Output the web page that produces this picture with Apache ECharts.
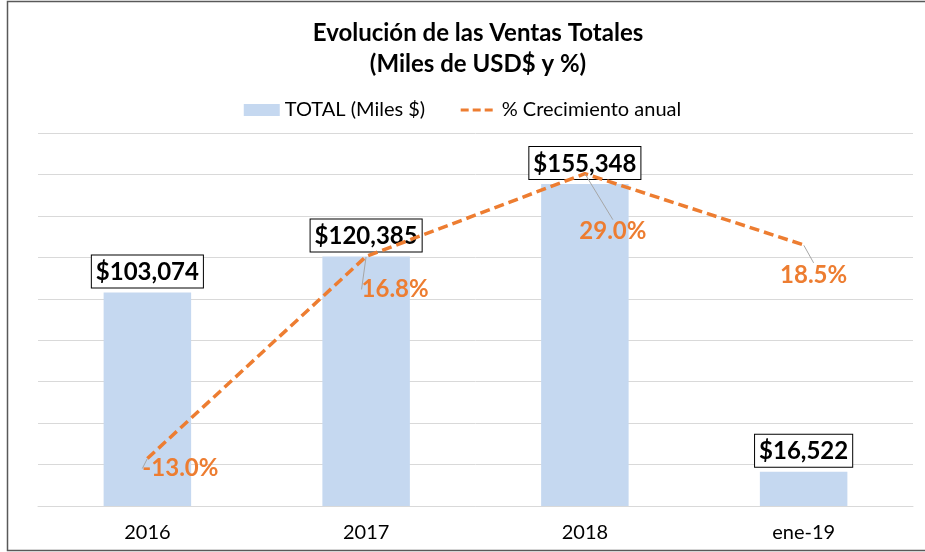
<!DOCTYPE html>
<html>
<head>
<meta charset="utf-8">
<script src="https://cdn.jsdelivr.net/npm/echarts@6/dist/echarts.min.js"></script>
<style>
  html, body { margin: 0; padding: 0; background: #fff; }
  #chart { width: 925px; height: 552px; }
</style>
</head>
<body>
<div id="chart"></div>
<script>
// datos
var categorias = ["2016", "2017", "2018", "ene-19"];
var totalMiles = [103074, 120385, 155348, 16522];
var crecimiento = [-13.0, 16.8, 29.0, 18.5];
// desplazamiento de las etiquetas de % (como en el original)
var pctOffsets = [[33, 10], [29, 33], [28, 58], [10, 30]];

var font = "Lato";
var myChart = echarts.init(document.getElementById("chart"));

var option = {
  animation: false,
  textStyle: { fontFamily: font },
  title: {
    text: "Evolución de las Ventas Totales\n(Miles de USD$ y %)",
    left: 473,
    textAlign: "center",
    top: 13,
    textStyle: {
      fontFamily: font,
      fontSize: 24,
      fontWeight: "bold",
      color: "#000",
      lineHeight: 31
    }
  },
  legend: {
    top: 95,
    left: "center",
    itemGap: 34,
    itemWidth: 36,
    itemHeight: 12,
    textStyle: { fontFamily: font, fontSize: 20, color: "#000" },
    data: [
      { name: "TOTAL (Miles $)", icon: "rect" },
      {
        name: "% Crecimiento anual",
        itemStyle: { opacity: 0 },
        lineStyle: { color: "#ED7D31", width: 3, type: [8, 4] }
      }
    ]
  },
  grid: { left: 38, right: 12, top: 133, bottom: 46 },
  xAxis: {
    type: "category",
    data: categorias,
    axisTick: { show: false },
    axisLine: { lineStyle: { color: "#D9D9D9", width: 1 } },
    axisLabel: { color: "#000", fontSize: 20, fontFamily: font, margin: 17 }
  },
  yAxis: [
    {
      type: "value",
      min: 0,
      max: 180000,
      interval: 20000,
      axisLabel: { show: false },
      axisLine: { show: false },
      axisTick: { show: false },
      splitLine: { lineStyle: { color: "#D9D9D9", width: 1 } }
    },
    {
      type: "value",
      min: -20,
      max: 35,
      interval: 5,
      show: false,
      splitLine: { show: false }
    }
  ],
  series: [
    {
      name: "TOTAL (Miles $)",
      type: "bar",
      data: totalMiles,
      barWidth: "40%",
      itemStyle: { color: "#C5D8F0" },
      label: {
        show: true,
        position: "top",
        distance: 5,
        formatter: function (p) {
          return "$" + p.value.toLocaleString("en-US");
        },
        color: "#000",
        fontFamily: font,
        fontSize: 24,
        fontWeight: "bold",
        backgroundColor: "#fff",
        borderColor: "#000",
        borderWidth: 1,
        padding: [5, 4, 3, 4]
      },
      z: 2
    },
    {
      name: "% Crecimiento anual",
      type: "line",
      yAxisIndex: 1,
      data: crecimiento,
      symbol: "circle",
      symbolSize: 1,
      showSymbol: true,
      lineStyle: { color: "#ED7D31", width: 3.5, type: [10, 5] },
      itemStyle: { color: "rgba(237,125,49,0)" },
      label: {
        show: true,
        position: "inside",
        formatter: function (p) {
          return p.value.toFixed(1) + "%";
        },
        color: "#ED7D31",
        fontFamily: font,
        fontSize: 24,
        fontWeight: "bold"
      },
      labelLine: {
        show: true,
        lineStyle: { color: "#A6A6A6", width: 1 }
      },
      labelLayout: function (params) {
        var o = pctOffsets[params.dataIndex];
        return { dx: o[0], dy: o[1] };
      },
      z: 3
    }
  ],
  graphic: [
    {
      type: "rect",
      shape: { x: 7.5, y: 1.5, width: 940, height: 549 },
      style: { fill: null, stroke: "#595959", lineWidth: 1.5 },
      silent: true
    }
  ]
};

myChart.setOption(option);
</script>
</body>
</html>
